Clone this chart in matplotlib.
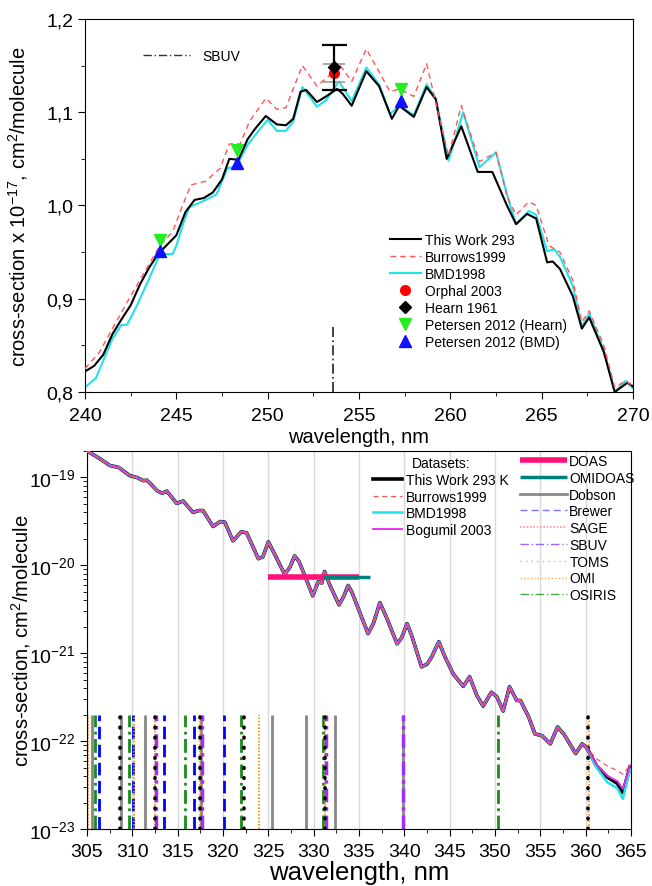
import matplotlib
matplotlib.use('Agg')
import matplotlib.pyplot as plt
from matplotlib.lines import Line2D
from matplotlib.ticker import MultipleLocator, FuncFormatter, FixedLocator, NullFormatter, LogFormatterSciNotation

plt.rcParams['font.family'] = ['Liberation Sans', 'DejaVu Sans']
plt.rcParams['mathtext.default'] = 'regular'
plt.rcParams['axes.unicode_minus'] = False

# ---- top panel: Hartley band, values in units of 1e-17 cm2/molecule
tw_wl = [240.0, 240.5, 241.0, 241.5, 242.0, 242.5, 243.0, 243.5, 244.0, 244.5, 245.0,
         245.5, 246.0, 246.5, 247.0, 247.5, 247.9, 248.4, 248.9, 249.3, 249.9, 250.5,
         251.0, 251.4, 251.8, 252.1, 252.7, 253.2, 253.8, 254.1, 254.6, 255.4, 256.1,
         256.8, 257.2, 258.0, 258.7, 259.2, 259.8, 260.6, 261.5, 262.3, 263.1, 263.6,
         264.2, 264.7, 265.3, 265.6, 266.0, 266.7, 267.2, 267.6, 268.4, 269.0, 269.7, 270.0]
tw_val = [0.822, 0.828, 0.840, 0.862, 0.878, 0.893, 0.915, 0.933, 0.948, 0.958, 0.968,
          0.993, 1.006, 1.008, 1.014, 1.028, 1.050, 1.049, 1.071, 1.082, 1.096, 1.087,
          1.086, 1.093, 1.122, 1.124, 1.111, 1.117, 1.125, 1.120, 1.107, 1.144, 1.128,
          1.093, 1.107, 1.095, 1.127, 1.114, 1.050, 1.085, 1.036, 1.036, 1.000, 0.980,
          0.991, 0.986, 0.939, 0.940, 0.932, 0.903, 0.868, 0.880, 0.843, 0.800, 0.810, 0.806]

bmd_wl = [240.0, 240.6, 241.5, 242.0, 242.3, 242.8, 243.5, 244.1, 244.8, 245.0, 245.4,
          245.7, 246.5, 247.2, 247.8, 248.3, 248.9, 249.5, 250.0, 250.5, 251.0, 251.4,
          251.9, 252.7, 253.2, 253.9, 254.6, 255.4, 256.1, 256.7, 257.2, 258.0, 258.7,
          259.2, 259.9, 260.7, 261.6, 262.5, 263.2, 263.6, 264.3, 264.7, 265.3, 265.7,
          266.0, 266.7, 267.2, 267.6, 268.4, 269.0, 269.6, 270.0]
bmd_val = [0.805, 0.815, 0.857, 0.872, 0.872, 0.891, 0.921, 0.948, 0.948, 0.957, 0.982,
           0.998, 1.005, 1.012, 1.040, 1.042, 1.065, 1.080, 1.092, 1.080, 1.080, 1.090,
           1.127, 1.106, 1.113, 1.133, 1.112, 1.148, 1.130, 1.098, 1.107, 1.097, 1.130,
           1.115, 1.048, 1.100, 1.041, 1.057, 1.005, 0.980, 0.994, 0.990, 0.951, 0.953,
           0.945, 0.914, 0.870, 0.884, 0.845, 0.800, 0.812, 0.804]

bur_wl = [240.0, 240.8, 241.7, 242.5, 243.3, 244.1, 244.8, 245.3, 245.8, 246.6, 247.4,
          247.9, 248.5, 249.0, 249.9, 250.5, 251.0, 251.9, 252.7, 253.3, 253.9, 254.6,
          255.4, 256.7, 257.2, 258.0, 258.7, 259.9, 260.6, 261.6, 262.5, 263.1, 263.6,
          264.3, 264.7, 265.4, 266.0, 266.7, 267.2, 267.6, 268.4, 269.0, 269.6, 270.0]
bur_val = [0.825, 0.843, 0.875, 0.903, 0.930, 0.957, 0.972, 0.998, 1.022, 1.026, 1.040,
           1.066, 1.066, 1.090, 1.115, 1.103, 1.105, 1.150, 1.128, 1.138, 1.152, 1.133,
           1.168, 1.122, 1.125, 1.117, 1.152, 1.053, 1.107, 1.047, 1.057, 1.010, 0.990,
           1.004, 1.000, 0.957, 0.950, 0.920, 0.875, 0.887, 0.850, 0.805, 0.812, 0.806]

orphal_wl, orphal_val, orphal_err = [253.65], [1.142], [0.010]
hearn_wl, hearn_val, hearn_err = [253.65], [1.148], [0.024]
pet_hearn_wl = [244.1, 248.3, 257.3]
pet_hearn_val = [0.963, 1.060, 1.125]
pet_bmd_wl = [244.1, 248.3, 257.3]
pet_bmd_val = [0.951, 1.046, 1.112]
sbuv_top_wl = [253.55]
sbuv_top_range = (0.8, 0.873)

# ---- bottom panel: Huggins band, cm2/molecule
b_wl = [305.0, 306.4, 307.5, 308.5, 309.7, 310.5, 311.2, 311.6, 312.1, 312.7, 313.3,
        313.8, 314.9, 315.6, 316.7, 317.3, 317.8, 318.9, 319.7, 320.2, 321.1, 322.0,
        322.6, 323.9, 324.4, 325.0, 325.5, 326.8, 327.4, 327.9, 328.4, 329.9, 330.5,
        330.9, 331.2, 331.8, 332.8, 333.3, 333.8, 334.2, 336.0, 336.6, 337.3, 338.0,
        339.2, 339.7, 340.3, 340.8, 341.9, 342.5, 343.0, 343.8, 344.5, 345.4, 346.5,
        347.2, 348.0, 348.7, 349.6, 350.2, 350.9, 351.6, 352.4, 352.8, 353.7, 354.4,
        355.2, 356.1, 356.9, 357.6, 358.9, 359.6, 360.1, 361.2, 362.4, 363.5, 364.1, 364.9]
tw_b = [2.0e-19, 1.64e-19, 1.37e-19, 1.3e-19, 1.05e-19, 1.0e-19, 9.2e-20, 9.3e-20, 8.3e-20, 7.1e-20, 6.6e-20,
        7.0e-20, 5.06e-20, 5.4e-20, 4.0e-20, 4.2e-20, 4.2e-20, 2.77e-20, 3.15e-20, 3.1e-20, 1.9e-20, 2.4e-20,
        2.35e-20, 1.19e-20, 1.25e-20, 1.85e-20, 1.47e-20, 7.9e-21, 9.6e-21, 1.28e-20, 1.1e-20, 4.5e-21, 6.5e-21,
        6.3e-21, 8.5e-21, 5.9e-21, 3.55e-21, 4.4e-21, 5.9e-21, 5.0e-21, 1.67e-21, 2.2e-21, 3.76e-21, 2.6e-21,
        1.28e-21, 1.5e-21, 2.17e-21, 1.6e-21, 7.0e-22, 7.5e-22, 9.0e-22, 1.35e-21, 9.0e-22, 5.8e-22, 4.2e-22,
        5.4e-22, 3.3e-22, 2.5e-22, 3.6e-22, 3.2e-22, 2.2e-22, 4.15e-22, 2.9e-22, 2.9e-22, 1.9e-22, 1.21e-22,
        1.15e-22, 9.3e-23, 1.45e-22, 1.2e-22, 7.2e-23, 9.3e-23, 8.5e-23, 5.2e-23, 3.9e-23, 3.3e-23, 2.6e-23, 5.1e-23]
bog_b = tw_b[:-5] + [5.4e-23, 4.0e-23, 3.5e-23, 2.85e-23, 5.3e-23]
bmd_b = tw_b[:-5] + [5.0e-23, 3.4e-23, 2.9e-23, 2.2e-23, 4.8e-23]
bur_b = tw_b[:-5] + [6.3e-23, 5.2e-23, 4.6e-23, 4.2e-23, 5.3e-23]

doas_wl, doas_val = [325.0, 335.0], [7.4e-21, 7.4e-21]
omidoas_wl, omidoas_val = [331.0, 336.2], [7.4e-21, 7.4e-21]

# instrument wavelengths, drawn as markers from 1e-23 to 2e-22
dobson_wl = [305.5, 308.8, 311.45, 317.6, 325.4, 329.1, 332.4, 339.8]
brewer_wl = [306.3, 310.1, 313.5, 316.8, 320.1]
sbuv_wl = [312.65, 317.7, 331.4, 339.9]
toms_wl = [308.6, 312.5, 317.5, 322.3, 331.2, 360.3]
omi_wl = [305.1, 310.15, 312.45, 317.5, 324.0, 331.25, 360.35]
osiris_wl = [305.9, 309.6, 315.8, 321.95, 331.0, 350.3]
mark_range = (1e-23, 2e-22)

decades = [1e-23, 1e-22, 1e-21, 1e-20, 1e-19]
minor_ticks = [m * d for d in decades[:-1] for m in range(2, 10)] + [2e-19]

W, H = 652, 887
fig = plt.figure(figsize=(W / 100, H / 100), dpi=100)

# ================= top panel =================
ax1 = fig.add_axes([85 / W, 1 - 393 / H, 548 / W, 373 / H])
l_bmd, = ax1.plot(bmd_wl, bmd_val, color='#22e2ea', lw=1.5, zorder=2)
l_tw, = ax1.plot(tw_wl, tw_val, color='black', lw=1.5, zorder=3)
l_bur, = ax1.plot(bur_wl, bur_val, color='#ff5555', lw=1.0, ls=(0, (4, 3)), zorder=4)
ax1.vlines(sbuv_top_wl, *sbuv_top_range, colors='#222222', lw=1.2,
           linestyles=(0, (6, 2, 1, 2)), zorder=2)

ax1.errorbar(orphal_wl, orphal_val, yerr=orphal_err, fmt='none', ecolor='#999999',
             elinewidth=1.2, capsize=8, capthick=1.2, zorder=5)
m_orp, = ax1.plot(orphal_wl, orphal_val, 'o', color='red', ms=7, zorder=6)
ax1.errorbar(hearn_wl, hearn_val, yerr=hearn_err, fmt='none', ecolor='black',
             elinewidth=1.6, capsize=9, capthick=1.6, zorder=6)
m_hearn, = ax1.plot(hearn_wl, hearn_val, 'D', color='black', ms=6.5, zorder=7)
m_ph, = ax1.plot(pet_hearn_wl, pet_hearn_val, 'v', color='#22ee22', ms=8, zorder=6)
m_pb, = ax1.plot(pet_bmd_wl, pet_bmd_val, '^', color='#1010ff', ms=8, zorder=6)

ax1.set_xlim(240, 270)
ax1.set_ylim(0.8, 1.2)
ax1.xaxis.set_major_locator(MultipleLocator(5))
ax1.xaxis.set_minor_locator(MultipleLocator(2.5))
ax1.yaxis.set_major_locator(MultipleLocator(0.1))
ax1.yaxis.set_minor_locator(MultipleLocator(0.05))
ax1.yaxis.set_major_formatter(FuncFormatter(lambda v, p: f'{v:.1f}'.replace('.', ',')))
ax1.tick_params(which='both', direction='out', top=False, right=False, labelsize=14)
ax1.tick_params(which='major', length=5)
ax1.tick_params(which='minor', length=3)
ax1.tick_params(axis='x', pad=6)
ax1.set_xlabel('wavelength, nm', fontsize=14.5, labelpad=2)
ax1.set_ylabel('cross-section x 10$^{-17}$, cm$^2$/molecule', fontsize=14.5)
ax1.yaxis.set_label_coords(-0.1, 0.5)

leg1 = ax1.legend([l_tw, l_bur, l_bmd, m_orp, m_hearn, m_ph, m_pb],
                  ['This Work 293', 'Burrows1999', 'BMD1998', 'Orphal 2003', 'Hearn 1961',
                   'Petersen 2012 (Hearn)', 'Petersen 2012 (BMD)'],
                  loc='upper left', bbox_to_anchor=(390 / W, 1 - 234 / H),
                  bbox_transform=fig.transFigure, frameon=False, fontsize=10,
                  handlelength=2.2, handletextpad=0.3, labelspacing=0.22,
                  borderpad=0, borderaxespad=0, numpoints=1)
ax1.add_artist(leg1)
sbuv_h = Line2D([], [], color='#333333', lw=1, ls=(0, (6, 2, 1, 2)))
ax1.legend([sbuv_h], ['SBUV'], loc='upper left', bbox_to_anchor=(143 / W, 1 - 50 / H),
           bbox_transform=fig.transFigure, frameon=False, fontsize=10,
           handlelength=3.4, handletextpad=0.85, borderpad=0, borderaxespad=0)

# ================= bottom panel =================
ax2 = fig.add_axes([87 / W, 1 - 830 / H, 544 / W, 378 / H])
ax2.set_yscale('log')

ax2.vlines(dobson_wl, *mark_range, colors='#888888', lw=2, zorder=2)
ax2.vlines(brewer_wl, *mark_range, colors='#0000ff', lw=2, linestyles=(0, (4.5, 2)), zorder=2)
ax2.vlines(osiris_wl, *mark_range, colors='#1a8a1a', lw=2,
           linestyles=(0, (5, 1.6, 1, 1.6)), zorder=2)
ax2.vlines(omi_wl, *mark_range, colors='#ff8c00', lw=1.2, linestyles=(0, (1, 1)), zorder=2)
ax2.vlines(sbuv_wl, *mark_range, colors='#9b30ff', lw=2.5,
           linestyles=(0, (4, 1.4, 1, 1.4)), zorder=2)
toms = ax2.vlines(toms_wl, *mark_range, colors='black', lw=2.6,
                  linestyles=(0, (0.2, 2.6)), zorder=3)
toms.set_capstyle('round')

s_tw, = ax2.plot(b_wl, tw_b, color='black', lw=2.6, zorder=4)
s_bmd, = ax2.plot(b_wl, bmd_b, color='#22e2ea', lw=1.8, zorder=5)
s_bog, = ax2.plot(b_wl, bog_b, color='#ee22ee', lw=1.3, zorder=6)
s_bur, = ax2.plot(b_wl, bur_b, color='#ff5555', lw=0.9, ls=(0, (4, 3)), zorder=6)
d_doas, = ax2.plot(doas_wl, doas_val, color='#ff1177', lw=4, solid_capstyle='butt', zorder=7)
d_omi, = ax2.plot(omidoas_wl, omidoas_val, color='#008080', lw=2.5, solid_capstyle='butt', zorder=8)

ax2.set_xlim(305, 365)
ax2.set_ylim(1e-23, 2e-19)
ax2.xaxis.set_major_locator(MultipleLocator(5))
ax2.xaxis.set_minor_locator(MultipleLocator(2.5))
ax2.yaxis.set_major_locator(FixedLocator(decades))
ax2.yaxis.set_major_formatter(LogFormatterSciNotation())
ax2.yaxis.set_minor_locator(FixedLocator(minor_ticks))
ax2.yaxis.set_minor_formatter(NullFormatter())
ax2.grid(axis='x', which='major', color='#d8d8d8', lw=1, zorder=0)
ax2.set_axisbelow(True)
ax2.tick_params(which='both', direction='out', top=False, right=False, labelsize=14)
ax2.tick_params(which='major', length=5)
ax2.tick_params(which='minor', length=3)
ax2.tick_params(axis='x', pad=5)
ax2.set_xlabel('wavelength, nm', fontsize=18.5, labelpad=0)
ax2.set_ylabel('cross-section, cm$^2$/molecule', fontsize=14.5)
ax2.yaxis.set_label_coords(-0.1, 0.5)

leg2 = ax2.legend([s_tw, s_bur, s_bmd, s_bog],
                  ['This Work 293 K', 'Burrows1999', 'BMD1998', 'Bogumil 2003'],
                  title='Datasets:', title_fontsize=10,
                  loc='upper left', bbox_to_anchor=(373 / W, 1 - 457 / H),
                  bbox_transform=fig.transFigure, frameon=False, fontsize=10,
                  handlelength=2.1, handletextpad=0.3, labelspacing=0.2,
                  borderpad=0, borderaxespad=0)
ax2.add_artist(leg2)
inst_handles = [
    d_doas, d_omi,
    Line2D([], [], color='#888888', lw=2),
    Line2D([], [], color='#7777ff', lw=1, ls=(0, (5, 3))),
    Line2D([], [], color='#ff9999', lw=1.2, ls=(0, (1, 1))),
    Line2D([], [], color='#9966ff', lw=1, ls=(0, (6, 2, 1, 2))),
    Line2D([], [], color='#bbbbbb', lw=1, ls=(0, (1, 3))),
    Line2D([], [], color='#ffaa55', lw=1, ls=(0, (1, 1.5))),
    Line2D([], [], color='#44aa44', lw=1, ls=(0, (6, 2, 1, 2))),
]
ax2.legend(inst_handles, ['DOAS', 'OMIDOAS', 'Dobson', 'Brewer', 'SAGE', 'SBUV', 'TOMS', 'OMI', 'OSIRIS'],
           loc='upper left', bbox_to_anchor=(520 / W, 1 - 455 / H),
           bbox_transform=fig.transFigure, frameon=False, fontsize=10,
           handlelength=3.4, handletextpad=0.15, labelspacing=0.2,
           borderpad=0, borderaxespad=0)

fig.savefig('out.png', dpi=100)
